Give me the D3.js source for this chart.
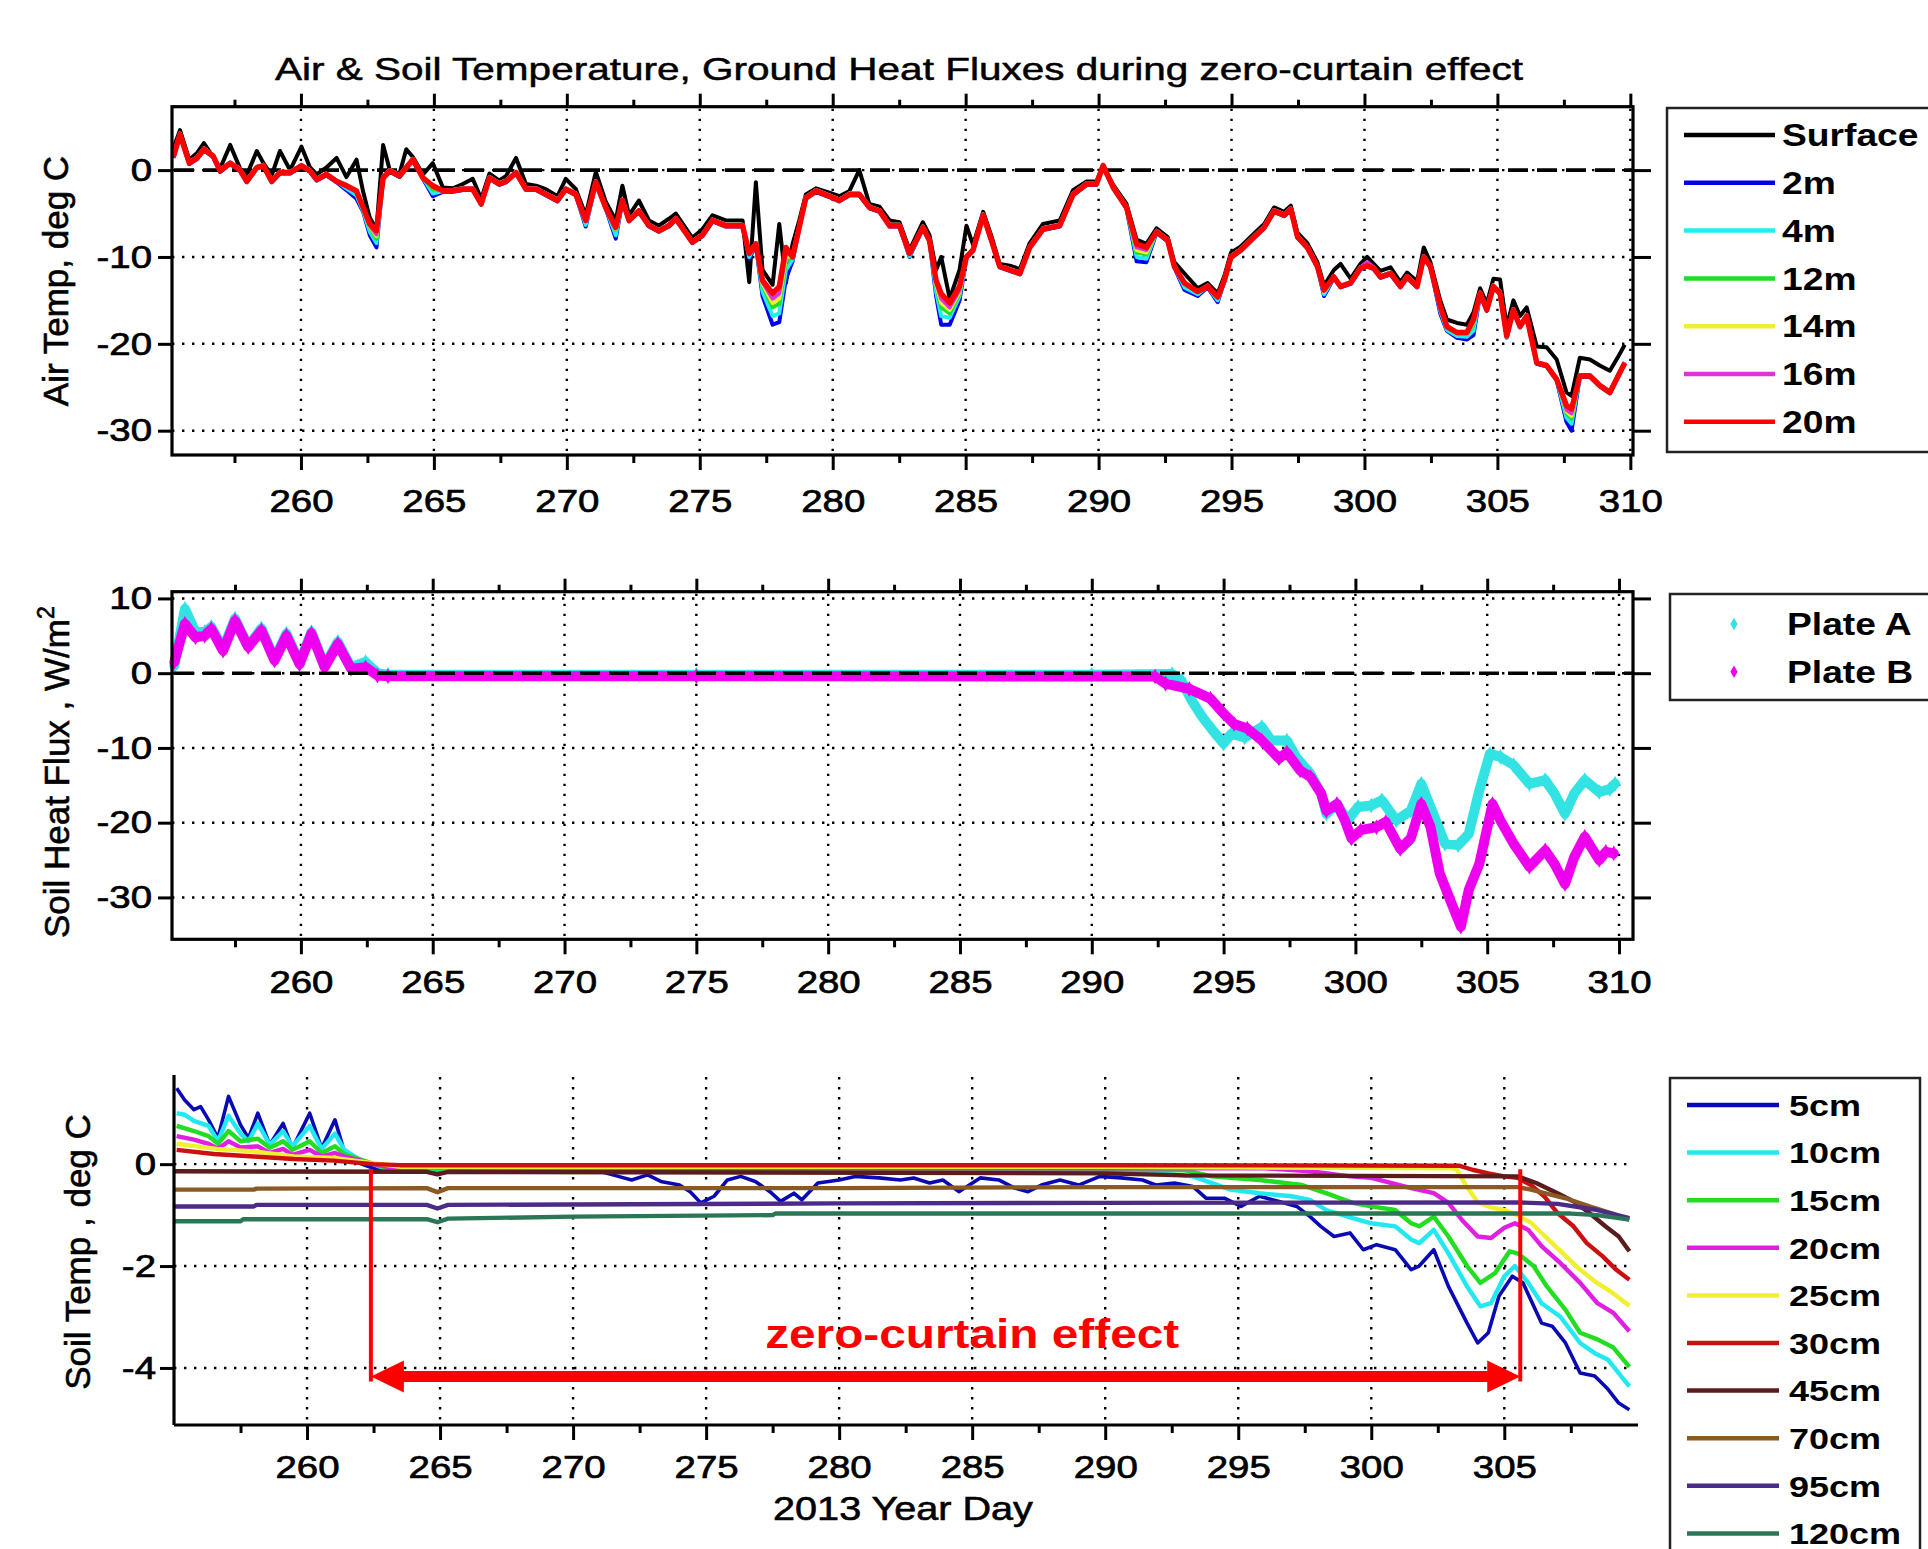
<!DOCTYPE html>
<html>
<head>
<meta charset="utf-8">
<script src="https://cdn.jsdelivr.net/npm/d3@7"></script>
<style>
  body { margin: 0; background: #fff; }
  svg { display: block; font-family: "Liberation Sans", Arial, Helvetica, sans-serif; }
</style>
</head>
<body>
<svg id="chart" width="1928" height="1549"></svg>
<script>
// ---------- panel 1: air temperature (deg C) ----------
const airDays = [
  255.2, 255.45, 255.8, 256.1, 256.35, 256.7, 256.96, 257.34, 257.71, 257.96,
  258.34, 258.59, 258.9, 259.21, 259.59, 260.02, 260.34, 260.59, 260.96, 261.34,
  261.71, 262.09, 262.34, 262.59, 262.84, 263.09, 263.34, 263.71, 263.96, 264.21,
  264.59, 264.96, 265.34, 265.71, 266.09, 266.46, 266.78, 267.09, 267.46, 267.71,
  268.09, 268.46, 268.84, 269.21, 269.65, 269.96, 270.34, 270.71, 271.09, 271.46,
  271.84, 272.09, 272.34, 272.71, 273.09, 273.46, 273.84, 274.1, 274.72, 275.1,
  275.48, 275.98, 276.61, 276.86, 277.11, 277.36, 277.74, 277.99, 278.24, 278.49,
  278.74, 278.99, 279.37, 279.87, 280.25, 280.63, 281.0, 281.38, 281.76, 282.14,
  282.51, 282.89, 283.39, 283.64, 283.89, 284.08, 284.4, 284.77, 285.03, 285.28,
  285.66, 285.97, 286.28, 286.66, 287.04, 287.41, 287.91, 288.54, 289.04, 289.55,
  289.92, 290.17, 290.55, 291.05, 291.43, 291.8, 292.18, 292.6, 292.85, 293.23,
  293.73, 294.1, 294.48, 294.73, 294.98, 295.35, 295.85, 296.23, 296.6, 296.98,
  297.23, 297.48, 297.85, 298.23, 298.48, 298.85, 299.1, 299.48, 299.85, 300.1,
  300.35, 300.6, 300.98, 301.35, 301.6, 301.98, 302.23, 302.48, 302.85, 303.1,
  303.48, 303.85, 304.1, 304.35, 304.6, 304.85, 305.1, 305.35, 305.6, 305.85,
  306.1, 306.48, 306.85, 307.23, 307.6, 307.79, 308.1, 308.48, 308.85, 309.23,
  309.54, 309.79
];
const airSurface = [
  2.5, 4.6, 1.2, 2.0, 3.1, 1.5, 0.2, 2.9, 0.2, -0.6,
  2.2, 0.8, -0.6, 2.2, 0.0, 2.7, 0.3, -0.5, 0.3, 1.4,
  -0.8, 1.2, -2.5, -5.5, -6.8, 2.9, 0.0, -0.4, 2.4, 1.5,
  -0.5, 0.8, -2.0, -2.1, -1.6, -1.0, -3.3, -0.4, -1.2, -0.7,
  1.4, -1.6, -1.8, -2.2, -3.0, -1.0, -2.2, -5.2, -0.2, -3.6,
  -5.8, -1.8, -5.2, -3.5, -5.8, -6.4, -5.6, -5.0, -7.8, -6.8,
  -5.2, -5.8, -5.8, -12.9, -1.4, -11.5, -13.2, -6.2, -13.0, -8.5,
  -5.8, -2.8, -2.1, -2.6, -3.0, -2.4, 0.0, -3.9, -4.2, -5.8,
  -6.0, -9.2, -6.0, -7.5, -11.5, -10.0, -14.8, -11.5, -6.4, -8.6,
  -4.8, -7.6, -10.8, -11.0, -11.4, -8.4, -6.2, -5.8, -2.3, -1.3,
  -1.3, 0.6, -1.7, -3.9, -8.0, -8.5, -6.7, -7.7, -10.6, -11.9,
  -13.6, -13.0, -14.2, -12.2, -9.5, -8.8, -7.3, -6.2, -4.3, -4.8,
  -4.1, -7.2, -8.4, -10.6, -13.3, -11.5, -10.8, -12.5, -10.8, -10.0,
  -10.8, -11.6, -11.2, -12.9, -11.8, -12.8, -8.9, -10.6, -15.0, -17.2,
  -17.6, -17.8, -16.4, -13.6, -15.4, -12.5, -12.6, -18.0, -15.0, -16.8,
  -15.8, -20.3, -20.4, -21.8, -25.6, -26.0, -21.6, -21.8, -22.5, -23.1,
  -21.5, -20.1
];
const air2m = [
  1.4, 4.0, 0.7, 1.3, 2.3, 1.5, -0.2, 0.7, -0.1, -1.4,
  0.2, 0.4, -1.4, -0.4, -0.4, 0.4, -0.2, -1.2, -0.6, -1.4,
  -2.3, -3.3, -4.8, -7.5, -8.9, -1.0, -0.2, -0.8, 0.2, 1.1,
  -1.0, -3.0, -2.5, -2.5, -2.3, -2.3, -4.0, -1.0, -1.7, -1.4,
  -0.4, -2.3, -2.3, -2.9, -3.6, -2.3, -2.9, -6.5, -1.5, -4.4,
  -7.9, -3.6, -5.9, -4.8, -6.5, -7.1, -6.5, -5.7, -8.4, -7.6,
  -5.9, -6.5, -6.5, -10.2, -8.6, -14.5, -17.8, -17.5, -12.5, -10.5,
  -6.7, -3.3, -2.5, -3.1, -3.6, -2.9, -2.9, -4.4, -4.8, -6.5,
  -6.5, -10.0, -6.7, -8.2, -14.5, -17.8, -17.8, -15.0, -10.1, -9.3,
  -5.3, -8.2, -11.2, -11.6, -12.0, -9.0, -6.9, -6.5, -2.9, -1.7,
  -1.7, 0.4, -2.1, -4.4, -10.5, -10.6, -7.2, -8.2, -11.2, -13.8,
  -14.5, -13.5, -15.2, -12.8, -10.1, -9.3, -7.8, -6.7, -4.8, -5.3,
  -4.6, -7.8, -9.0, -11.2, -14.5, -12.4, -13.5, -13.1, -11.4, -11.1,
  -11.4, -12.4, -12.0, -13.5, -12.4, -13.5, -10.1, -11.2, -16.5, -18.5,
  -19.3, -19.5, -19.0, -14.3, -16.2, -13.5, -14.3, -19.3, -16.2, -18.1,
  -16.9, -22.3, -22.6, -24.2, -29.0, -30.0, -23.8, -23.8, -24.9, -25.7,
  -23.8, -22.3
];
const air4m = [
  1.5, 4.1, 0.8, 1.4, 2.4, 1.6, -0.1, 0.8, 0.0, -1.3,
  0.3, 0.5, -1.3, -0.3, -0.3, 0.5, -0.1, -1.1, -0.5, -1.3,
  -2.1, -2.9, -4.7, -7.1, -8.4, -0.9, -0.1, -0.7, 0.3, 1.2,
  -0.9, -2.7, -2.4, -2.4, -2.2, -2.2, -3.9, -0.9, -1.6, -1.3,
  -0.3, -2.2, -2.2, -2.8, -3.5, -2.2, -2.8, -6.3, -1.4, -4.3,
  -7.5, -3.5, -5.8, -4.7, -6.4, -7.0, -6.4, -5.6, -8.3, -7.5,
  -5.8, -6.4, -6.4, -10.0, -8.5, -14.0, -16.8, -16.5, -11.5, -10.3,
  -6.6, -3.2, -2.4, -3.0, -3.5, -2.8, -2.8, -4.3, -4.7, -6.4,
  -6.4, -9.9, -6.6, -8.1, -14.0, -16.8, -17.0, -14.5, -10.0, -9.2,
  -5.2, -8.1, -11.1, -11.5, -11.9, -8.9, -6.8, -6.4, -2.8, -1.6,
  -1.6, 0.5, -2.0, -4.3, -10.0, -10.2, -7.1, -8.1, -11.1, -13.5,
  -14.3, -13.4, -15.0, -12.7, -10.0, -9.2, -7.7, -6.6, -4.7, -5.2,
  -4.5, -7.7, -8.9, -11.1, -14.3, -12.3, -13.4, -13.0, -11.3, -11.0,
  -11.3, -12.3, -11.9, -13.4, -12.3, -13.4, -10.0, -11.1, -16.2, -18.4,
  -19.1, -19.2, -18.5, -14.2, -16.1, -13.4, -14.2, -19.3, -16.1, -18.0,
  -16.8, -22.2, -22.5, -24.1, -28.5, -29.2, -23.7, -23.7, -24.8, -25.6,
  -23.7, -22.2
];
const air12m = [
  1.6, 4.2, 0.9, 1.5, 2.5, 1.7, 0.0, 0.9, 0.1, -1.2,
  0.4, 0.6, -1.2, -0.2, -0.2, 0.6, 0.0, -1.0, -0.4, -1.2,
  -1.7, -2.6, -4.4, -6.6, -7.9, -0.8, 0.0, -0.6, 0.4, 1.3,
  -0.8, -2.2, -2.3, -2.3, -2.1, -2.1, -3.8, -0.8, -1.5, -1.2,
  -0.2, -2.1, -2.1, -2.7, -3.4, -2.1, -2.7, -5.8, -1.3, -4.2,
  -6.9, -3.4, -5.7, -4.6, -6.3, -6.9, -6.3, -5.5, -8.2, -7.4,
  -5.7, -6.3, -6.3, -9.5, -8.4, -13.2, -15.8, -15.4, -10.5, -9.9,
  -6.5, -3.1, -2.3, -2.9, -3.4, -2.7, -2.7, -4.2, -4.6, -6.3,
  -6.3, -9.5, -6.5, -8.0, -13.3, -15.8, -16.5, -14.2, -9.9, -9.1,
  -5.1, -8.0, -11.0, -11.4, -11.8, -8.8, -6.7, -6.3, -2.7, -1.5,
  -1.5, 0.6, -1.9, -4.2, -9.5, -9.7, -7.0, -8.0, -11.0, -13.1,
  -14.0, -13.3, -14.7, -12.6, -9.9, -9.1, -7.6, -6.5, -4.6, -5.1,
  -4.4, -7.6, -8.8, -11.0, -14.0, -12.2, -13.3, -12.9, -11.2, -10.9,
  -11.2, -12.2, -11.8, -13.3, -12.2, -13.3, -9.9, -11.0, -15.8, -18.2,
  -18.8, -18.9, -17.8, -14.1, -16.0, -13.3, -14.0, -19.0, -16.0, -17.9,
  -16.7, -22.1, -22.4, -24.0, -28.0, -28.6, -23.6, -23.6, -24.7, -25.5,
  -23.6, -22.1
];
const air14m = [
  1.6, 4.2, 0.9, 1.5, 2.5, 1.7, 0.0, 0.9, 0.1, -1.2,
  0.4, 0.6, -1.2, -0.2, -0.2, 0.6, 0.0, -1.0, -0.4, -1.2,
  -1.8, -2.5, -4.4, -6.5, -7.6, -0.8, 0.0, -0.6, 0.4, 1.3,
  -0.8, -2.0, -2.3, -2.3, -2.1, -2.1, -3.8, -0.8, -1.5, -1.2,
  -0.2, -2.1, -2.1, -2.7, -3.4, -2.1, -2.7, -5.8, -1.3, -4.2,
  -6.8, -3.4, -5.7, -4.6, -6.3, -6.9, -6.3, -5.5, -8.2, -7.4,
  -5.7, -6.3, -6.3, -9.5, -8.4, -13.1, -15.3, -14.8, -10.0, -9.9,
  -6.5, -3.1, -2.3, -2.9, -3.4, -2.7, -2.7, -4.2, -4.6, -6.3,
  -6.3, -9.5, -6.5, -8.0, -13.1, -15.3, -16.1, -14.0, -9.9, -9.1,
  -5.1, -8.0, -11.0, -11.4, -11.8, -8.8, -6.7, -6.3, -2.7, -1.5,
  -1.5, 0.6, -1.9, -4.2, -9.2, -9.5, -7.0, -8.0, -11.0, -13.1,
  -14.0, -13.3, -14.7, -12.6, -9.9, -9.1, -7.6, -6.5, -4.6, -5.1,
  -4.4, -7.6, -8.8, -11.0, -14.0, -12.2, -13.3, -12.9, -11.2, -10.9,
  -11.2, -12.2, -11.8, -13.3, -12.2, -13.3, -9.9, -11.0, -15.8, -18.1,
  -18.8, -18.8, -17.6, -14.1, -16.0, -13.3, -14.1, -19.0, -16.0, -17.9,
  -16.7, -22.1, -22.4, -24.0, -27.8, -28.3, -23.6, -23.6, -24.7, -25.5,
  -23.6, -22.1
];
const air16m = [
  1.6, 4.2, 0.9, 1.5, 2.5, 1.7, 0.0, 0.9, 0.1, -1.2,
  0.4, 0.6, -1.2, -0.2, -0.2, 0.6, 0.0, -1.0, -0.4, -1.2,
  -1.8, -2.5, -4.4, -6.4, -7.4, -0.8, 0.0, -0.6, 0.4, 1.3,
  -0.8, -2.0, -2.3, -2.3, -2.1, -2.1, -3.8, -0.8, -1.5, -1.2,
  -0.2, -2.1, -2.1, -2.7, -3.4, -2.1, -2.7, -5.8, -1.3, -4.2,
  -6.7, -3.4, -5.7, -4.6, -6.3, -6.9, -6.3, -5.5, -8.2, -7.4,
  -5.7, -6.3, -6.3, -9.5, -8.4, -12.9, -14.8, -14.2, -9.5, -9.9,
  -6.5, -3.1, -2.3, -2.9, -3.4, -2.7, -2.7, -4.2, -4.6, -6.3,
  -6.3, -9.5, -6.5, -8.0, -12.9, -14.8, -15.8, -13.8, -9.9, -9.1,
  -5.1, -8.0, -11.0, -11.4, -11.8, -8.8, -6.7, -6.3, -2.7, -1.5,
  -1.5, 0.6, -1.9, -4.2, -8.9, -9.2, -7.0, -8.0, -11.0, -13.1,
  -14.0, -13.3, -14.7, -12.6, -9.9, -9.1, -7.6, -6.5, -4.6, -5.1,
  -4.4, -7.6, -8.8, -11.0, -13.9, -12.2, -13.3, -12.9, -11.2, -10.6,
  -11.2, -12.2, -11.8, -13.3, -12.2, -13.3, -9.9, -11.0, -15.8, -18.1,
  -18.8, -18.8, -17.4, -14.1, -16.0, -13.3, -14.1, -19.0, -16.0, -17.9,
  -16.7, -22.1, -22.4, -24.0, -27.6, -28.0, -23.6, -23.6, -24.7, -25.5,
  -23.6, -22.1
];
const air20m = [
  1.5, 4.1, 0.8, 1.4, 2.4, 1.6, -0.1, 0.8, 0.0, -1.3,
  0.3, 0.5, -1.3, -0.3, -0.3, 0.5, -0.1, -1.1, -0.5, -1.3,
  -1.8, -2.4, -4.3, -6.2, -7.0, -0.9, -0.1, -0.7, 0.3, 1.2,
  -0.9, -1.8, -2.4, -2.4, -2.2, -2.2, -3.9, -0.9, -1.6, -1.3,
  -0.3, -2.2, -2.2, -2.8, -3.5, -2.2, -2.8, -5.8, -1.4, -4.3,
  -6.6, -3.5, -5.8, -4.7, -6.4, -7.0, -6.4, -5.6, -8.3, -7.5,
  -5.8, -6.4, -6.4, -9.6, -8.5, -12.7, -14.2, -13.4, -8.9, -10.0,
  -6.6, -3.2, -2.4, -3.0, -3.5, -2.8, -2.8, -4.3, -4.7, -6.4,
  -6.4, -9.6, -6.6, -8.1, -12.7, -14.2, -15.3, -13.4, -10.0, -9.2,
  -5.2, -8.1, -11.1, -11.5, -11.9, -8.9, -6.8, -6.4, -2.8, -1.6,
  -1.6, 0.5, -2.0, -4.3, -8.5, -8.9, -7.1, -8.1, -11.1, -13.0,
  -14.0, -13.4, -14.6, -12.7, -10.0, -9.2, -7.7, -6.6, -4.7, -5.2,
  -4.5, -7.7, -8.9, -11.1, -13.8, -12.3, -13.4, -13.0, -11.3, -11.0,
  -11.3, -12.3, -11.9, -13.4, -12.3, -13.4, -10.0, -11.1, -15.7, -18.0,
  -18.7, -18.7, -17.2, -14.2, -16.1, -13.4, -14.2, -19.1, -16.1, -18.0,
  -16.8, -22.2, -22.5, -24.1, -27.1, -27.5, -23.7, -23.7, -24.8, -25.6,
  -23.7, -22.2
];
const airNames = ["Surface", "2m", "4m", "12m", "14m", "16m", "20m"];
const airColors = ["#000000", "#0000ee", "#22eeee", "#22dd22", "#eeee33", "#dd33dd", "#ff0000"];

// ---------- panel 2: soil heat flux (W/m2) ----------
const plateADays = [255.2, 255.6, 256.0, 256.35, 256.6, 257.05, 257.5, 258.0, 258.5, 259.0,
  259.45, 259.95, 260.4, 260.9, 261.4, 261.9, 262.45, 262.9, 263.3, 275,
  290, 293.05, 293.4, 293.8, 294.2, 294.6, 295.0, 295.3, 295.8, 296.45,
  296.8, 297.4, 297.75, 298.3, 298.7, 298.9, 299.3, 299.7, 300.1, 300.6,
  301.0, 301.55, 302.1, 302.5, 302.85, 303.4, 303.9, 304.3, 304.7, 305.1,
  305.5, 306.0, 306.6, 307.2, 307.55, 307.95, 308.3, 308.7, 309.25, 309.65, 309.85];
const plateA = [1.0, 8.6, 5.5, 5.5, 6.2, 3.3, 7.3, 3.6, 6.0, 1.9,
  5.3, 1.4, 5.5, 1.0, 4.2, 0.8, 1.5, 0.0, -0.2, -0.2,
  -0.2, -0.1, -1.0, -3.7, -5.9, -7.7, -9.4, -8.1, -8.6, -7.2,
  -9.0, -9.0, -11.2, -13.5, -16.1, -18.8, -17.5, -19.7, -17.9, -17.7,
  -17.0, -19.7, -18.4, -14.8, -17.9, -22.8, -23.0, -21.5, -15.7, -10.8,
  -11.2, -12.3, -14.8, -14.3, -16.1, -18.8, -16.1, -14.3, -15.9, -15.5, -14.8];
const plateBDays = [255.2, 255.6, 256.0, 256.35, 256.6, 257.05, 257.5, 258.0, 258.5, 259.0,
  259.45, 259.95, 260.4, 260.9, 261.4, 261.9, 262.45, 262.9, 263.3, 275,
  292.4, 292.8, 293.7, 294.5, 295.0, 295.4, 295.9, 296.45, 297.1, 297.4,
  297.9, 298.3, 298.7, 298.9, 299.3, 299.6, 299.85, 300.2, 300.8, 301.15,
  301.7, 302.1, 302.5, 302.85, 303.2, 303.6, 304.0, 304.3, 304.7, 305.2,
  305.5, 306.0, 306.6, 307.2, 307.55, 307.95, 308.3, 308.7, 309.25, 309.5, 309.8];
const plateB = [1.5, 6.6, 4.8, 5.0, 5.9, 3.0, 7.0, 3.5, 5.7, 1.7,
  5.0, 1.2, 5.3, 0.8, 3.9, 0.6, 0.8, -0.3, -0.4, -0.4,
  -0.45, -1.4, -2.1, -3.4, -5.4, -6.8, -7.4, -9.0, -11.4, -10.6,
  -13.0, -13.9, -16.1, -18.4, -17.5, -19.7, -22.1, -21.0, -20.6, -19.9,
  -23.5, -22.1, -17.5, -20.6, -26.8, -30.4, -33.9, -29.0, -25.5, -17.5,
  -19.7, -22.8, -25.9, -23.7, -25.5, -28.2, -24.6, -21.9, -25.0, -23.9, -24.1];
const plateNames = ["Plate A", "Plate B"];
const plateColors = ["#33e3e3", "#ee00ee"];

// ---------- panel 3: soil temperature (deg C), [day, value] ----------
const soil5cm = [[255.1,1.49],[255.4,1.26],[255.75,1.07],[256.0,1.13],[256.3,0.87],[256.65,0.51],[257.05,1.33],[257.5,0.77],
  [257.8,0.51],[258.15,1.0],[258.6,0.38],[259.1,0.8],[259.45,0.31],[260.1,1.0],[260.55,0.31],[261.05,0.87],[261.4,0.25],
  [261.95,0.02],[262.5,-0.08],[263.0,-0.11],[264.0,-0.12],[264.9,-0.18],[265.3,-0.12],[268,-0.12],[271.0,-0.14],[271.7,-0.24],
  [272.2,-0.31],[272.8,-0.21],[273.3,-0.34],[274.0,-0.41],[274.4,-0.54],[274.8,-0.76],[275.3,-0.63],[275.8,-0.31],[276.3,-0.24],
  [276.85,-0.34],[277.4,-0.54],[277.8,-0.73],[278.3,-0.57],[278.6,-0.7],[279.2,-0.37],[280.0,-0.31],[280.6,-0.24],[281.5,-0.27],
  [282.3,-0.31],[282.8,-0.27],[283.4,-0.37],[283.9,-0.31],[284.5,-0.54],[285.3,-0.27],[286.0,-0.31],[286.6,-0.47],[287.1,-0.54],
  [287.6,-0.41],[288.3,-0.31],[289.0,-0.41],[289.8,-0.24],[290.6,-0.27],[291.4,-0.31],[291.9,-0.41],[292.6,-0.37],[293.3,-0.44],
  [293.8,-0.67],[294.5,-0.67],[295.1,-0.83],[295.8,-0.63],[296.5,-0.73],[297.2,-0.83],[297.7,-1.03],[298.1,-1.22],[298.6,-1.42],
  [299.2,-1.35],[299.7,-1.68],[300.2,-1.58],[300.9,-1.68],[301.5,-2.07],[301.8,-2.0],[302.35,-1.68],[302.9,-2.4],[303.6,-3.12],
  [304.0,-3.51],[304.4,-3.31],[304.8,-2.59],[305.3,-2.2],[305.7,-2.33],[306.4,-3.12],[306.8,-3.18],[307.3,-3.51],[307.85,-4.1],
  [308.4,-4.16],[308.9,-4.42],[309.3,-4.69],[309.7,-4.82]];
const soil10cm = [[255.1,1.0],[255.4,0.97],[255.75,0.85],[256.3,0.75],[256.65,0.45],[257.05,0.95],[257.5,0.6],[257.8,0.45],
  [258.15,0.8],[258.6,0.38],[259.1,0.65],[259.45,0.35],[260.1,0.75],[260.55,0.3],[261.05,0.6],[261.4,0.28],[261.95,0.1],
  [262.5,0.0],[263.0,-0.1],[270,-0.1],[280,-0.1],[290,-0.12],[292.5,-0.2],[293.3,-0.24],[294.7,-0.5],[295.8,-0.57],[297.0,-0.63],
  [297.7,-0.7],[298.3,-0.9],[299.3,-1.06],[300.0,-1.16],[300.9,-1.22],[301.5,-1.48],[301.8,-1.55],[302.35,-1.29],[302.9,-1.75],
  [303.6,-2.4],[304.1,-2.79],[304.5,-2.73],[305.0,-2.2],[305.4,-2.0],[305.9,-2.33],[306.4,-2.73],[307.1,-2.99],[307.85,-3.51],
  [308.4,-3.71],[308.9,-3.84],[309.7,-4.36]];
const soil15cm = [[255.1,0.75],[255.75,0.65],[256.3,0.55],[256.65,0.4],[257.05,0.65],[257.5,0.45],[258.15,0.5],[258.6,0.32],
  [259.1,0.45],[259.45,0.28],[260.1,0.45],[260.55,0.22],[261.05,0.35],[261.4,0.2],[261.95,0.1],[262.5,0.0],[263.0,-0.08],
  [275,-0.1],[290,-0.1],[293,-0.12],[294.0,-0.24],[295.8,-0.31],[297.4,-0.41],[298.3,-0.57],[299.3,-0.76],[300.0,-0.83],
  [300.9,-0.9],[301.5,-1.16],[301.8,-1.22],[302.35,-1.03],[302.9,-1.42],[303.6,-2.0],[304.1,-2.33],[304.65,-2.14],[305.2,-1.71],
  [305.5,-1.75],[306.1,-2.0],[306.6,-2.4],[307.3,-2.86],[307.85,-3.31],[308.5,-3.44],[309.1,-3.6],[309.7,-3.98]];
const soil20cm = [[255.1,0.55],[255.75,0.48],[256.3,0.4],[256.65,0.3],[257.05,0.45],[257.5,0.33],[258.15,0.35],[258.6,0.22],
  [259.1,0.3],[259.45,0.18],[260.1,0.28],[260.55,0.15],[261.05,0.22],[261.4,0.15],[261.95,0.08],[262.5,0.0],[263.0,-0.05],
  [280,-0.08],[296,-0.08],[297.7,-0.14],[299.2,-0.24],[300.0,-0.27],[301.5,-0.47],[302.35,-0.57],[302.9,-0.76],[303.4,-1.09],
  [304.0,-1.42],[304.5,-1.45],[305.0,-1.25],[305.4,-1.16],[305.9,-1.29],[306.4,-1.61],[307.1,-1.94],[307.85,-2.33],[308.5,-2.73],
  [309.1,-2.92],[309.7,-3.28]];
const soil25cm = [[255.1,0.4],[256.6,0.3],[258.0,0.25],[259.5,0.15],[261.0,0.12],[262.5,0.02],[263.5,-0.05],[290,-0.05],
  [303.0,-0.08],[303.2,-0.1],[303.6,-0.45],[304.0,-0.75],[304.5,-0.85],[305.0,-0.9],[305.5,-1.0],[306.0,-1.15],[306.6,-1.45],
  [307.2,-1.75],[307.8,-2.05],[308.4,-2.3],[309.0,-2.5],[309.7,-2.78]];
const soil30cm = [[255.1,0.28],[256.5,0.2],[258.0,0.15],[259.5,0.1],[261.0,0.07],[262.5,0.0],[263.5,-0.02],[290,-0.02],
  [303.3,-0.03],[303.8,-0.11],[304.4,-0.18],[305.0,-0.24],[305.5,-0.27],[306.0,-0.41],[306.5,-0.63],[307.0,-0.96],[307.6,-1.22],
  [308.1,-1.55],[308.7,-1.81],[309.2,-2.07],[309.7,-2.27]];
const soil45cm = [[255.0,-0.14],[264.5,-0.15],[264.9,-0.2],[265.3,-0.15],[290,-0.18],[293,-0.22],[305.5,-0.24],[306.2,-0.37],
  [307.0,-0.57],[307.6,-0.73],[308.2,-0.96],[308.8,-1.22],[309.3,-1.42],[309.7,-1.71]];
const soil70cm = [[255.0,-0.5],[258.0,-0.5],[258.1,-0.48],[264.5,-0.47],[264.9,-0.55],[265.3,-0.47],[280,-0.47],[290,-0.45],
  [305.5,-0.45],[306.0,-0.5],[307.3,-0.67],[308.2,-0.83],[309.0,-0.96],[309.7,-1.09]];
const soil95cm = [[255.0,-0.83],[258.0,-0.83],[258.1,-0.8],[264.5,-0.8],[264.9,-0.87],[265.3,-0.8],[280,-0.77],[290,-0.76],
  [305.5,-0.75],[307.0,-0.78],[308.5,-0.9],[309.7,-1.06]];
const soil120cm = [[255.0,-1.12],[257.5,-1.12],[257.6,-1.08],[264.5,-1.08],[264.9,-1.14],[265.3,-1.07],[270.0,-1.03],
  [277.5,-1.0],[277.6,-0.97],[307.5,-0.97],[308.5,-1.0],[309.7,-1.09]];
const soilNames = ["5cm", "10cm", "15cm", "20cm", "25cm", "30cm", "45cm", "70cm", "95cm", "120cm"];
const soilColors = ["#0a0ab4", "#22e8f0", "#22dd22", "#e020e0", "#f0f030", "#cc1010", "#5a1c1c", "#8a5a22", "#4c2a88", "#2c7658"];

// zero-curtain annotation (day, deg C)
const zcStart = 262.4, zcEnd = 305.6, zcArrowY = -4.17, zcTopY = -0.1, zcLabelDay = 285.0, zcLabelY = -3.6;

// ticks
const xMajor = [260, 265, 270, 275, 280, 285, 290, 295, 300, 305, 310];
const xMinor = [257.5, 262.5, 267.5, 272.5, 277.5, 282.5, 287.5, 292.5, 297.5, 302.5, 307.5];
const xMajor3 = [260, 265, 270, 275, 280, 285, 290, 295, 300, 305];
const airTicks = [0, -10, -20, -30];
const fluxTicks = [10, 0, -10, -20, -30];
const soilTicks = [0, -2, -4];

// ---------- drawing ----------
const svg = d3.select("#chart");
const STRETCH = 1.2;

const x1 = d3.scaleLinear().domain([255.15, 310.1]).range([172, 1633]);
const y1 = d3.scaleLinear().domain([-32.8, 7.3]).range([455, 106.7]);
const x2 = d3.scaleLinear().domain([255.11, 310.53]).range([172, 1633]);
const y2 = d3.scaleLinear().domain([-35.6, 10.9]).range([939.3, 591.7]);
const x3 = d3.scaleLinear().domain([255, 309.95]).range([174, 1636]);
const y3 = d3.scaleLinear().domain([-5.12, 1.75]).range([1425, 1075]);

function stretch(sel, k) {
  sel.each(function() {
    const L = this.getComputedTextLength();
    d3.select(this).attr("textLength", L * k).attr("lengthAdjust", "spacingAndGlyphs");
  });
}
// heavier strokes, like the blurred original
function heavy(sel, w) {
  sel.attr("stroke", sel.attr("fill") || "#000").attr("stroke-width", w);
}

function grid(x, y, xv, yv, xEnd) {
  const g = svg.append("g").attr("stroke", "#000").attr("stroke-width", 2.4).attr("stroke-dasharray", "2.4,7.6");
  const [yb, yt] = y.range();
  g.selectAll(".gx").data(xv).join("line").attr("class", "gx")
    .attr("x1", d => x(d)).attr("x2", d => x(d)).attr("y1", yt + 2).attr("y2", yb);
  g.selectAll(".gy").data(yv).join("line").attr("class", "gy")
    .attr("x1", x.range()[0]).attr("x2", xEnd || x.range()[1]).attr("y1", d => y(d)).attr("y2", d => y(d));
}

function styleAxis(g, fs) {
  g.select(".domain").remove();
  g.selectAll(".tick line").attr("stroke", "#000").attr("stroke-width", 3);
  g.selectAll(".tick text").attr("fill", "#000").attr("font-size", fs)
    .attr("font-family", '"Liberation Sans", Arial, sans-serif')
    .attr("stroke", "#000").attr("stroke-width", 0.7);
  return g;
}

function axes(x, y, o) {
  const [yb, yt] = y.range();
  const fmt = d => String(d);
  const b = svg.append("g").attr("transform", `translate(0,${yb})`)
    .call(d3.axisBottom(x).tickValues(o.major).tickSize(15).tickPadding(o.pad).tickFormat(fmt));
  styleAxis(b, 32);
  stretch(b.selectAll(".tick text"), STRETCH);
  styleAxis(svg.append("g").attr("transform", `translate(0,${yb})`)
    .call(d3.axisBottom(x).tickValues(xMinor).tickSize(8).tickFormat("")), 0);
  if (o.top) {
    styleAxis(svg.append("g").attr("transform", `translate(0,${yt})`)
      .call(d3.axisTop(x).tickValues(o.major).tickSize(13).tickFormat("")), 0);
    styleAxis(svg.append("g").attr("transform", `translate(0,${yt})`)
      .call(d3.axisTop(x).tickValues(xMinor).tickSize(7).tickFormat("")), 0);
  }
  const l = svg.append("g").attr("transform", `translate(${x.range()[0]},0)`)
    .call(d3.axisLeft(y).tickValues(o.yticks).tickSize(14).tickPadding(o.ypad).tickFormat(fmt));
  styleAxis(l, 32);
  stretch(l.selectAll(".tick text"), STRETCH);
  if (o.right) {
    styleAxis(svg.append("g").attr("transform", `translate(${x.range()[1]},0)`)
      .call(d3.axisRight(y).tickValues(o.yticks).tickSize(18).tickFormat("")), 0);
  }
}

function frame(x, y) {
  const [xl, xr] = x.range(), [yb, yt] = y.range();
  svg.append("rect").attr("x", xl).attr("y", yt).attr("width", xr - xl).attr("height", yb - yt)
    .attr("fill", "none").attr("stroke", "#000").attr("stroke-width", 3.2);
}

function zeroLine(x, y) {
  svg.append("line").attr("x1", x.range()[0] + 2).attr("x2", x.range()[1])
    .attr("y1", y(0)).attr("y2", y(0))
    .attr("stroke", "#000").attr("stroke-width", 3.6).attr("stroke-dasharray", "20,9");
}

function yLabel(text, xpos, ycenter) {
  svg.append("text").attr("transform", `translate(${xpos},${ycenter}) rotate(-90)`)
    .attr("text-anchor", "middle").attr("font-size", 35).attr("fill", "#000").text(text)
    .call(heavy, 0.6);
}

function legendBox(x, y, w, h) {
  svg.append("rect").attr("x", x).attr("y", y).attr("width", w).attr("height", h)
    .attr("fill", "#fff").attr("stroke", "#222").attr("stroke-width", 2.5);
}

// title
svg.append("text").attr("x", 899).attr("y", 80).attr("text-anchor", "middle")
  .attr("font-size", 32).attr("fill", "#000")
  .attr("textLength", 1248).attr("lengthAdjust", "spacingAndGlyphs")
  .text("Air & Soil Temperature, Ground Heat Fluxes during zero-curtain effect")
  .call(heavy, 0.5);

// ===== panel 1 =====
grid(x1, y1, xMajor, [0, -10, -20, -30]);
zeroLine(x1, y1);
const airSeries = [airSurface, air2m, air4m, air12m, air14m, air16m, air20m];
const line1 = d3.line().x(d => x1(d[0])).y(d => y1(d[1]));
airSeries.forEach((vals, i) => {
  const n = Math.min(airDays.length, vals.length);
  const pts = d3.range(n).map(j => [airDays[j], vals[j]]);
  svg.append("path").datum(pts).attr("d", line1).attr("fill", "none")
    .attr("stroke", airColors[i]).attr("stroke-width", i === 6 ? 5.4 : 4)
    .attr("stroke-linejoin", "round");
});
frame(x1, y1);
axes(x1, y1, {major: xMajor, pad: 19, top: true, right: true, yticks: airTicks, ypad: 6});
yLabel("Air Temp, deg C", 68, 281);

legendBox(1667, 108, 300, 344);
airNames.forEach((name, i) => {
  const yy = 135 + i * 47.8;
  svg.append("line").attr("x1", 1684).attr("x2", 1775).attr("y1", yy).attr("y2", yy)
    .attr("stroke", airColors[i]).attr("stroke-width", 4.5);
  svg.append("text").attr("x", 1782).attr("y", yy).attr("dy", "0.36em")
    .attr("font-size", 31).attr("font-weight", "bold").attr("fill", "#000").text(name)
    .call(stretch, STRETCH);
});

// ===== panel 2 =====
grid(x2, y2, xMajor, [10, 0, -10, -20, -30]);
const line2 = d3.line().x(d => x2(d[0])).y(d => y2(d[1]));
const diamond = d3.symbol(d3.symbolDiamond).size(70);
[[plateADays, plateA], [plateBDays, plateB]].forEach(([days, vals], i) => {
  const n = Math.min(days.length, vals.length);
  const pts = d3.range(n).map(j => [days[j], vals[j]]);
  svg.append("path").datum(pts).attr("d", line2).attr("fill", "none")
    .attr("stroke", plateColors[i]).attr("stroke-width", 10)
    .attr("stroke-linejoin", "round").attr("stroke-linecap", "round");
  svg.append("g").selectAll("path").data(pts).join("path")
    .attr("transform", d => `translate(${x2(d[0])},${y2(d[1])})`)
    .attr("d", diamond).attr("fill", plateColors[i]);
});
zeroLine(x2, y2);
frame(x2, y2);
axes(x2, y2, {major: xMajor, pad: 16, top: true, right: true, yticks: fluxTicks, ypad: 6});
const fluxLabel = svg.append("text").attr("transform", "translate(69,938) rotate(-90)")
  .attr("font-size", 35).attr("fill", "#000").attr("stroke", "#000").attr("stroke-width", 0.6)
  .text("Soil Heat Flux , W/m");
fluxLabel.append("tspan").attr("font-size", 23).attr("dy", -15).text("2");

legendBox(1670, 594, 300, 106);
plateNames.forEach((name, i) => {
  const yy = 624 + i * 47.7;
  svg.append("path").attr("transform", `translate(1734,${yy})`)
    .attr("d", d3.symbol(d3.symbolDiamond).size(45)()).attr("fill", plateColors[i]);
  svg.append("text").attr("x", 1787).attr("y", yy).attr("dy", "0.36em")
    .attr("font-size", 31).attr("font-weight", "bold").attr("fill", "#000").text(name)
    .call(stretch, STRETCH);
});

// ===== panel 3 =====
grid(x3, y3, xMajor3, [0, -2, -4], 1628);
const soilSeries = [soil5cm, soil10cm, soil15cm, soil20cm, soil25cm, soil30cm, soil45cm, soil70cm, soil95cm, soil120cm];
const line3 = d3.line().x(d => x3(d[0])).y(d => y3(d[1]));
soilSeries.forEach((pts, i) => {
  svg.append("path").datum(pts).attr("d", line3).attr("fill", "none")
    .attr("stroke", soilColors[i]).attr("stroke-width", i === 0 ? 3.6 : 4.4)
    .attr("stroke-linejoin", "round");
});
// axis lines (no frame on this panel)
svg.append("line").attr("x1", x3.range()[0]).attr("x2", x3.range()[0])
  .attr("y1", y3.range()[1]).attr("y2", y3.range()[0]).attr("stroke", "#000").attr("stroke-width", 3.2);
svg.append("line").attr("x1", x3.range()[0]).attr("x2", x3.range()[1] + 2)
  .attr("y1", y3.range()[0]).attr("y2", y3.range()[0]).attr("stroke", "#000").attr("stroke-width", 3.2);
axes(x3, y3, {major: xMajor3, pad: 15, top: false, right: false, yticks: soilTicks, ypad: 4});
yLabel("Soil Temp , deg C", 90, 1252);
svg.append("text").attr("x", 903).attr("y", 1520).attr("text-anchor", "middle")
  .attr("font-size", 33).attr("fill", "#000").text("2013 Year Day")
  .call(stretch, STRETCH).call(heavy, 0.6);

// zero-curtain annotation
const red = "#ff0000";
const ay = y3(zcArrowY), xa = x3(zcStart), xb = x3(zcEnd);
svg.append("line").attr("x1", xa).attr("x2", xa).attr("y1", y3(zcTopY)).attr("y2", ay + 5)
  .attr("stroke", red).attr("stroke-width", 4);
svg.append("line").attr("x1", xb).attr("x2", xb).attr("y1", y3(zcTopY)).attr("y2", ay + 5)
  .attr("stroke", red).attr("stroke-width", 4);
svg.append("line").attr("x1", xa + 25).attr("x2", xb - 25).attr("y1", ay).attr("y2", ay)
  .attr("stroke", red).attr("stroke-width", 11);
svg.append("path").attr("d", `M${xa},${ay} L${xa + 33},${ay - 16} L${xa + 33},${ay + 16} Z`).attr("fill", red);
svg.append("path").attr("d", `M${xb},${ay} L${xb - 33},${ay - 16} L${xb - 33},${ay + 16} Z`).attr("fill", red);
svg.append("text").attr("x", x3(zcLabelDay)).attr("y", y3(zcLabelY)).attr("text-anchor", "middle")
  .attr("font-size", 41).attr("font-weight", "bold").attr("fill", red)
  .attr("textLength", 414).attr("lengthAdjust", "spacingAndGlyphs")
  .text("zero-curtain effect");

legendBox(1670, 1078, 250, 520);
soilNames.forEach((name, i) => {
  const yy = 1105 + i * 47.6;
  svg.append("line").attr("x1", 1687).attr("x2", 1779).attr("y1", yy).attr("y2", yy)
    .attr("stroke", soilColors[i]).attr("stroke-width", 4.5);
  svg.append("text").attr("x", 1789).attr("y", yy).attr("dy", "0.36em")
    .attr("font-size", 30).attr("font-weight", "bold").attr("fill", "#000").text(name)
    .call(stretch, STRETCH);
});
</script>
</body>
</html>
